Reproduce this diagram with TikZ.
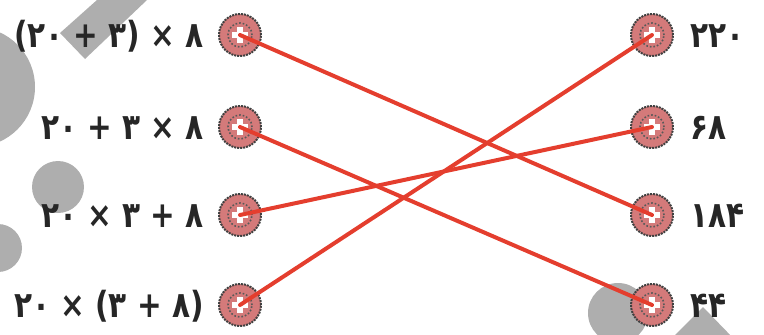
\documentclass[tikz,border=0pt]{standalone}
\usepackage{fontspec}
\newfontfamily\fafont[FakeStretch=0.82]{DejaVu Sans}
\usetikzlibrary{positioning}

\definecolor{linkred}{RGB}{228,62,46}
\definecolor{dotpink}{RGB}{212,122,122}
\definecolor{blobgray}{RGB}{174,174,174}

\tikzset{
  matchdot/.style={circle, minimum size=42pt, inner sep=0pt, fill=dotpink,
    draw=black!75, densely dotted, line width=2pt,
    path picture={
      \draw[black!65, dotted, line width=1.6pt]
        (path picture bounding box.center) circle (12pt);
      \draw[white, solid, line width=6pt]
        (path picture bounding box.center) +(-8pt,0) -- +(8pt,0)
        (path picture bounding box.center) +(0,-8pt) -- +(0,8pt);
    }},
  expr/.style={font=\fafont\bfseries\fontsize{36}{42}\selectfont, text=black!85,
    inner sep=0pt, text height=0.8em, text depth=0.2em, yshift=-9pt},
  link/.style={linkred, line width=4pt, line cap=round},
}

\begin{document}
\begin{tikzpicture}[x=1pt, y=-1pt]
    \useasboundingbox (0,0) rectangle (764,335);

    % background blobs
    \fill[blobgray] (-25,87) circle (60);
    \fill[blobgray] (60,33) -- (85,59) -- (147,0) -- (97,0) -- cycle;
    \fill[blobgray] (58,187) circle (26);
    \fill[blobgray] (-2,248) circle (24);
    \fill[blobgray] (618,313) circle (30);
    \fill[blobgray] (703,307) -- (735,340) -- (670,340) -- cycle;

    \foreach \y/\n in {35/1, 127/2, 215/3, 305/4} {
        \node[matchdot] (L\n) at (240,\y) {};
        \node[matchdot] (R\n) at (652,\y) {};
    }

    % math runs left to right, as printed
    \node[expr, left=14pt of L1] (e1) {(۲۰ + ۳) × ۸};
    \node[expr, left=14pt of L2] (e2) {۲۰ + ۳ × ۸};
    \node[expr, left=14pt of L3] (e3) {۲۰ × ۳ + ۸};
    \node[expr, left=14pt of L4] (e4) {۲۰ × (۳ + ۸)};

    \node[expr, right=16pt of R1] (v1) {۲۲۰};
    \node[expr, right=16pt of R2] (v2) {۶۸};
    \node[expr, right=16pt of R3] (v3) {۱۸۴};
    \node[expr, right=16pt of R4] (v4) {۴۴};

    \draw[link] (L1.center) -- (R3.center);
    \draw[link] (L2.center) -- (R4.center);
    \draw[link] (L3.center) -- (R2.center);
    \draw[link] (L4.center) -- (R1.center);
\end{tikzpicture}
\end{document}
